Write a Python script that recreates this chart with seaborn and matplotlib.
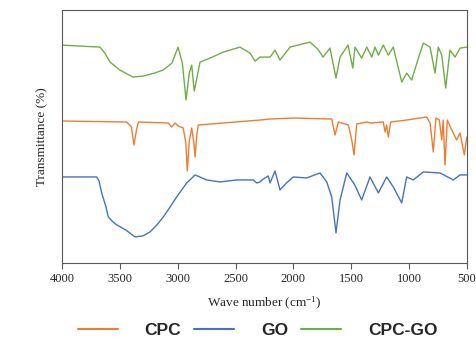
import matplotlib
matplotlib.use("Agg")
import matplotlib.pyplot as plt
import seaborn as sns
import pandas as pd

# Espectros FTIR (numero de onda, transmitancia relativa)
cpc_wn = [4000, 3441, 3400, 3378, 3355, 3340, 3081, 3052, 3023, 2995, 2952, 2930, 2917,
          2900, 2879, 2860, 2850, 2835, 2822, 2289, 2202, 2001, 1669, 1640, 1612, 1525,
          1496, 1476, 1453, 1366, 1338, 1223, 1208, 1194, 1180, 1159, 1021, 848, 819,
          791, 768, 739, 718, 705, 690, 670, 632, 589, 560, 523, 502]
cpc_t = [142, 141, 136, 118, 134, 141, 140, 136, 140, 137, 135, 120, 92,
         122, 135, 120, 106, 128, 138, 143, 144, 145, 144, 128, 141, 138,
         123, 108, 139, 141, 140, 141, 131, 138, 126, 141, 143, 146, 140,
         111, 145, 143, 123, 143, 98, 143, 133, 123, 130, 108, 126]

go_wn = [4000, 3700, 3680, 3657, 3620, 3600, 3560, 3527, 3450, 3369, 3300, 3239, 3180,
         3124, 3060, 3009, 2960, 2922, 2850, 2750, 2634, 2490, 2347, 2317, 2289, 2260,
         2231, 2217, 2202, 2159, 2116, 2060, 2001, 1886, 1770, 1712, 1669, 1632, 1597,
         1539, 1470, 1410, 1338, 1266, 1194, 1137, 1064, 1021, 964, 877, 733, 618, 560,
         502]
go_t = [86, 86, 82, 70, 56, 46, 41, 38, 33, 26, 27, 31, 38,
        46, 57, 66, 74, 80, 88, 83, 81, 83, 83, 80, 81, 84,
        86, 87, 80, 92, 73, 80, 86, 85, 90, 81, 66, 30, 63,
        90, 78, 63, 86, 70, 86, 76, 60, 86, 83, 91, 90, 83, 88,
        88]

cpcgo_wn = [4000, 3672, 3630, 3585, 3500, 3386, 3300, 3200, 3127, 3050, 2997, 2960, 2928,
            2900, 2879, 2857, 2807, 2700, 2608, 2462, 2375, 2332, 2289, 2202, 2159, 2116,
            2029, 1857, 1790, 1744, 1684, 1632, 1597, 1528, 1487, 1468, 1410, 1366, 1323,
            1295, 1266, 1223, 1180, 1137, 1064, 1021, 978, 920, 877, 819, 776, 748, 718,
            684, 647, 603, 560, 502]
cpcgo_t = [218, 216, 210, 201, 193, 186, 187, 190, 193, 200, 216, 200, 163,
           190, 198, 172, 201, 206, 211, 216, 210, 202, 206, 206, 213, 203,
           216, 221, 214, 206, 215, 185, 206, 218, 195, 216, 205, 216, 206,
           216, 208, 218, 208, 216, 181, 190, 183, 205, 220, 216, 190, 216, 208,
           175, 213, 206, 215, 216]

names = ["CPC", "GO", "CPC-GO"]
colors = ["#ED7D31", "#4472C4", "#70AD47"]

df = pd.concat([
    pd.DataFrame({"wn": cpc_wn, "t": cpc_t, "muestra": "CPC"}),
    pd.DataFrame({"wn": go_wn, "t": go_t, "muestra": "GO"}),
    pd.DataFrame({"wn": cpcgo_wn, "t": cpcgo_t, "muestra": "CPC-GO"}),
], ignore_index=True)

sns.set_style("white")
fig = plt.figure(figsize=(4.77, 3.5), dpi=100)
ax = fig.add_axes([0.13, 0.249, 0.849, 0.722])

sns.lineplot(data=df, x="wn", y="t", hue="muestra", hue_order=names,
             palette=colors, linewidth=1.0, ax=ax, estimator=None, legend=False)

ax.set_xlim(4000, 500)
ax.set_ylim(0, 253)
ax.set_xticks([4000, 3500, 3000, 2500, 2000, 1500, 1000, 500])
ax.set_yticks([])
for s in ax.spines.values():
    s.set_color("#595959")
    s.set_linewidth(0.8)
ax.tick_params(axis="x", direction="out", length=4, width=0.8, color="#595959",
               bottom=True, labelsize=9)
for lab in ax.get_xticklabels():
    lab.set_fontfamily("Liberation Serif")
ax.set_xlabel("Wave number (cm$\\mathregular{^{-1}}$)", fontfamily="Liberation Serif",
              fontsize=9.5, labelpad=7)
ax.set_ylabel("Transmittance (%)", fontfamily="Liberation Serif", fontsize=9.5, labelpad=10)

handles = [plt.Line2D([], [], color=c, linewidth=1.5) for c in colors]
fig.legend(handles, names, loc="center", bbox_to_anchor=(0.54, 0.055), ncol=3,
           frameon=False, handlelength=2.3, handletextpad=1.55, columnspacing=0.75,
           prop={"family": "Liberation Sans", "weight": "bold", "size": 12.5})

fig.savefig("out.png", dpi=100)
